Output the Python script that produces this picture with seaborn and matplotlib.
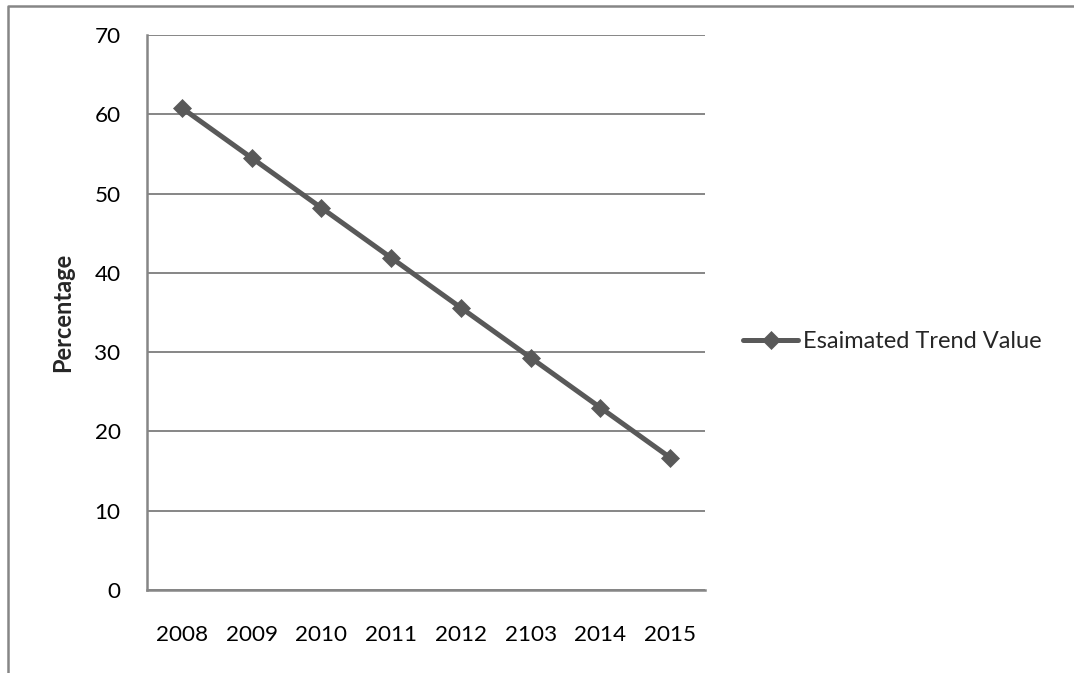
import matplotlib
matplotlib.use("Agg")
import matplotlib.pyplot as plt
import seaborn as sns
import pandas as pd
from matplotlib.lines import Line2D

years = ["2008", "2009", "2010", "2011", "2012", "2103", "2014", "2015"]
trend_values = [60.8, 54.5, 48.2, 41.9, 35.6, 29.3, 23.0, 16.7]
series_name = "Esaimated Trend Value"
y_label = "Percentage"
y_ticks = [0, 10, 20, 30, 40, 50, 60, 70]

sns.set_theme(style="white")
plt.rcParams["font.family"] = ["Lato", "DejaVu Sans"]

line_color = "#595959"
grid_color = "#868686"
tick_size = 16.2
legend_size = 17

df = pd.DataFrame({"Year": years, "Value": trend_values})

fig = plt.figure(figsize=(10.74, 6.73), dpi=100)
ax = fig.add_axes([147 / 1074, 83 / 673, (705 - 147) / 1074, (590 - 35) / 673])

sns.lineplot(data=df, x="Year", y="Value", ax=ax, color=line_color,
             linewidth=3.6, marker="D", markersize=8.8,
             markeredgewidth=0.5, markeredgecolor=line_color,
             sort=False, legend=False)

ax.set_xlim(-0.5, len(years) - 0.5)
ax.set_ylim(0, 70)
ax.set_yticks(y_ticks)
ax.yaxis.grid(True, color=grid_color, linewidth=1.4)
ax.xaxis.grid(False)
ax.set_axisbelow(True)

for side in ["top", "right"]:
    ax.spines[side].set_visible(False)
for side in ["left", "bottom"]:
    ax.spines[side].set_color(grid_color)
    ax.spines[side].set_linewidth(1.8)

ax.tick_params(axis="both", length=0, labelsize=tick_size, colors="black")
ax.tick_params(axis="y", pad=19)
ax.tick_params(axis="x", pad=25)

ax.set_xlabel("")
ax.set_ylabel(y_label, fontsize=17, fontweight="bold", labelpad=15)

handle = Line2D([], [], color=line_color, linewidth=3.6, marker="D",
                markersize=8.8, markeredgewidth=0.5, markeredgecolor=line_color)
ax.legend([handle], [series_name], loc="center left",
          bbox_to_anchor=(1.068, 0.447), frameon=False, fontsize=legend_size,
          handlelength=2.35, handletextpad=0.2, borderaxespad=0, borderpad=0)

# outer chart-area frame (top and left edges)
frame = Line2D([8 / 1074, 8 / 1074, 1.0], [0.0, 1 - 6 / 673, 1 - 6 / 673],
               transform=fig.transFigure, color=grid_color, linewidth=1.8)
fig.add_artist(frame)

fig.savefig("out.png", dpi=100)
